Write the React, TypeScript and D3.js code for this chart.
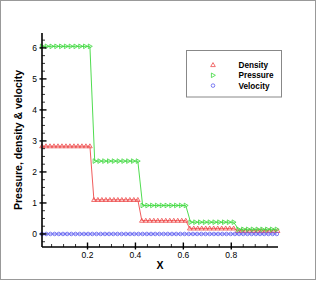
import React from 'react';
import * as d3 from 'd3';

// sample positions of the plotted points (grid of the solution, with symbol skipping)
const densityStart = 0.01, densityStep = 1 / 60;
const pressureStart = 0.01, pressureStep = 0.02;
const velocityStart = 0.01, velocityStep = 0.0175;

const densityVals = [
  2.83, 2.83, 2.83, 2.83, 2.83, 2.83, 2.83, 2.83, 2.83, 2.83, 2.83, 2.83, 2.83,
  1.1, 1.1, 1.1, 1.1, 1.1, 1.1, 1.1, 1.1, 1.1, 1.1, 1.1, 1.1,
  0.43, 0.43, 0.43, 0.43, 0.43, 0.43, 0.43, 0.43, 0.43, 0.43, 0.43, 0.43,
  0.18, 0.18, 0.18, 0.18, 0.18, 0.18, 0.18, 0.18, 0.18, 0.18, 0.18, 0.18,
  0.1, 0.1, 0.1, 0.1, 0.1, 0.1, 0.1, 0.1, 0.1, 0.1, 0.1,
];
const pressureVals = [
  6.05, 6.05, 6.05, 6.05, 6.05, 6.05, 6.05, 6.05, 6.05, 6.05, 6.05,
  2.35, 2.35, 2.35, 2.35, 2.35, 2.35, 2.35, 2.35, 2.35, 2.35,
  0.92, 0.92, 0.92, 0.92, 0.92, 0.92, 0.92, 0.92, 0.92, 0.92,
  0.38, 0.38, 0.38, 0.38, 0.38, 0.38, 0.38, 0.38, 0.38, 0.38,
  0.15, 0.15, 0.15, 0.15, 0.15, 0.15, 0.15, 0.15, 0.15,
];
const velocityVals = [
  0, 0, 0, 0, 0, 0, 0, 0, 0, 0, 0, 0, 0, 0, 0, 0, 0, 0, 0, 0,
  0, 0, 0, 0, 0, 0, 0, 0, 0, 0, 0, 0, 0, 0, 0, 0, 0, 0, 0, 0,
  0, 0, 0, 0, 0, 0, 0, 0, 0, 0, 0, 0, 0, 0, 0, 0, 0,
];

const xMajor = [0.2, 0.4, 0.6, 0.8];
const yMajor = [0, 1, 2, 3, 4, 5, 6];
const seriesNames = ['Density', 'Pressure', 'Velocity'];

const toPoints = (vals: number[], start: number, step: number) =>
  vals.map((v, i) => [start + i * step, v] as [number, number]);

const series = [
  { name: 'Density', color: '#ee4a4a', pts: toPoints(densityVals, densityStart, densityStep), shape: 'up' },
  { name: 'Pressure', color: '#3cd83c', pts: toPoints(pressureVals, pressureStart, pressureStep), shape: 'right' },
  { name: 'Velocity', color: '#5c5cf0', pts: toPoints(velocityVals, velocityStart, velocityStep), shape: 'circle' },
];

const font = '"Liberation Sans", Arial, Helvetica, sans-serif';

const Marker = ({ shape, x, y, color }: { shape: string; x: number; y: number; color: string }) => {
  if (shape === 'up')
    return <path d={`M${x},${y - 2.4}L${x + 2.3},${y + 1.6}L${x - 2.3},${y + 1.6}Z`} fill="none" stroke={color} strokeWidth={0.8} />;
  if (shape === 'right')
    return <path d={`M${x - 1.6},${y - 2.3}L${x + 2.4},${y}L${x - 1.6},${y + 2.3}Z`} fill="none" stroke={color} strokeWidth={0.8} />;
  return <circle cx={x} cy={y} r={1.8} fill="none" stroke={color} strokeWidth={0.8} />;
};

export default function App() {
  const width = 316, height = 281;
  const left = 42, right = 278, top = 33, bottom = 247;

  const x = d3.scaleLinear().domain([0.01, 0.995]).range([left, right]);
  const y = d3.scaleLinear().domain([-0.42, 6.48]).range([bottom, top]);

  const xMinor = d3.range(0.05, 0.99, 0.05).filter(v => !xMajor.some(m => Math.abs(m - v) < 1e-6));
  const yMinor = d3.range(-0.25, 6.4, 0.25).filter(v => !yMajor.some(m => Math.abs(m - v) < 1e-6));

  const line = d3.line<[number, number]>().x(d => x(d[0])).y(d => y(d[1]));

  return (
    <svg width={width} height={height} style={{ position: 'absolute', left: 0, top: 0, background: '#fff' }} fontFamily={font}>
      <rect x={0.5} y={0.5} width={315} height={279} fill="#fff" stroke="#999" strokeWidth={1} />

      {series.map(s => (
        <g key={s.name}>
          <path d={line(s.pts) || ''} fill="none" stroke={s.color} strokeWidth={0.9} />
          {s.pts.map((p, i) => (
            <Marker key={i} shape={s.shape} x={x(p[0])} y={y(p[1])} color={s.color} />
          ))}
        </g>
      ))}

      {/* axes */}
      <line x1={left} x2={left} y1={top} y2={bottom} stroke="#000" strokeWidth={1.6} />
      <line x1={left} x2={right} y1={bottom} y2={bottom} stroke="#000" strokeWidth={1.6} />

      {xMajor.map(v => (
        <g key={v}>
          <line x1={x(v)} x2={x(v)} y1={bottom + 2.5} y2={bottom - 4.5} stroke="#000" strokeWidth={1.4} />
          <text x={x(v)} y={258} fontSize={8.5} textAnchor="middle">{v.toFixed(1)}</text>
        </g>
      ))}
      {xMinor.map(v => (
        <line key={v} x1={x(v)} x2={x(v)} y1={bottom} y2={bottom - 3} stroke="#000" strokeWidth={0.8} />
      ))}
      {yMajor.map(v => (
        <g key={v}>
          <line x1={left - 2.5} x2={left + 4.5} y1={y(v)} y2={y(v)} stroke="#000" strokeWidth={1.4} />
          <text x={37} y={y(v) + 3} fontSize={8.5} textAnchor="end">{v}</text>
        </g>
      ))}
      {yMinor.map(v => (
        <line key={v} x1={left} x2={left + 3} y1={y(v)} y2={y(v)} stroke="#000" strokeWidth={0.8} />
      ))}

      <text x={(left + right) / 2} y={269} fontSize={10.5} fontWeight="bold" textAnchor="middle">X</text>
      <text transform={`translate(22,${(top + bottom) / 2}) rotate(-90)`} fontSize={10.5} fontWeight="bold" textAnchor="middle">
        Pressure, density &amp; velocity
      </text>

      {/* legend */}
      <rect x={186.5} y={50.5} width={95} height={46.5} fill="#fff" stroke="#888" strokeWidth={1} />
      {seriesNames.map((n, i) => {
        const s = series.find(d => d.name === n)!;
        const cy = 65 + i * 10.3;
        return (
          <g key={n}>
            <Marker shape={s.shape} x={213} y={cy} color={s.color} />
            <text x={238.5} y={cy + 3} fontSize={8.2} fontWeight="bold">{n}</text>
          </g>
        );
      })}
    </svg>
  );
}
